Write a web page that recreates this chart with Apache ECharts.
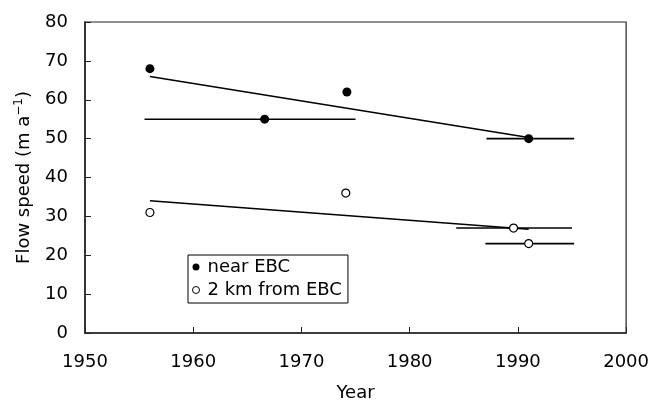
<!DOCTYPE html>
<html>
<head>
<meta charset="utf-8">
<script src="https://cdn.jsdelivr.net/npm/echarts@6/dist/echarts.min.js"></script>
<style>html,body{margin:0;padding:0;background:#fff;}#c{width:652px;height:407px;}</style>
</head>
<body>
<div id="c"></div>
<script>
// Data
var nearEBC = [[1956, 68], [1966.6, 55], [1974.2, 62], [1991, 50]];
var farEBC = [[1956, 31], [1974.1, 36], [1989.6, 27], [1991, 23]];
var nearTrend = [[1956, 66], [1991, 50.3]];
var farTrend = [[1956, 34], [1991, 26.7]];
var nearRange1 = [[1955.5, 55], [1975, 55]];
var nearRange2 = [[1987.1, 50], [1995.2, 50]];
var farRange1 = [[1984.3, 27], [1995, 27]];
var farRange2 = [[1987, 23], [1995.2, 23]];
var xTicks = {min: 1950, max: 2000, step: 10};
var yTicks = {min: 0, max: 80, step: 10};

var FONT = 'DejaVu Sans';
var chart = echarts.init(document.getElementById('c'), null, {renderer: 'canvas'});
function lineSeries(name, data) {
  return {name: name, type: 'line', data: data, symbol: 'none', silent: true,
    lineStyle: {color: '#000', width: 1.6}, z: 2, animation: false};
}
chart.setOption({
  animation: false,
  backgroundColor: '#fff',
  grid: {left: 85, right: 24, top: 22, bottom: 69, show: true, borderColor: '#222', borderWidth: 1.2},
  xAxis: {
    type: 'value', min: xTicks.min, max: xTicks.max, interval: xTicks.step,
    name: 'Year', nameLocation: 'middle', nameGap: 51,
    nameTextStyle: {fontFamily: FONT, fontSize: 18, color: '#000'},
    axisLine: {show: true, lineStyle: {color: '#222', width: 1.5}},
    axisTick: {show: true, inside: true, length: 6, lineStyle: {color: '#222'}},
    axisLabel: {fontFamily: FONT, fontSize: 18, color: '#000', margin: 20,
      formatter: function (v) { return String(v); }},
    splitLine: {show: false}
  },
  yAxis: {
    type: 'value', min: yTicks.min, max: yTicks.max, interval: yTicks.step,
    name: '{a|Flow speed (m a}{s|−1}{a|)}', nameLocation: 'middle', nameGap: 50,
    nameTextStyle: {rich: {
      a: {fontFamily: FONT, fontSize: 18, color: '#000'},
      s: {fontFamily: FONT, fontSize: 12, color: '#000', verticalAlign: 'top', padding: [0, 0, 10, 0]}
    }},
    axisLine: {show: true, lineStyle: {color: '#222', width: 1.5}},
    axisTick: {show: true, inside: true, length: 6, lineStyle: {color: '#222'}},
    axisLabel: {fontFamily: FONT, fontSize: 18, color: '#000', margin: 17},
    splitLine: {show: false}
  },
  legend: {
    orient: 'vertical', left: 188, top: 255,
    backgroundColor: '#fff', borderColor: '#000', borderWidth: 1,
    padding: [3, 6, 4, 4], itemGap: 5, itemWidth: 7, itemHeight: 7,
    textStyle: {fontFamily: FONT, fontSize: 18, color: '#000', padding: [0, 0, 0, 3]},
    data: [
      {name: 'near EBC', icon: 'circle', itemStyle: {color: '#000', borderWidth: 0, opacity: 1}},
      {name: '2 km from EBC', icon: 'circle', itemStyle: {color: '#fff', borderColor: '#000', borderWidth: 1, opacity: 1}}
    ]
  },
  series: [
    lineSeries('nt', nearTrend),
    lineSeries('ft', farTrend),
    lineSeries('nr1', nearRange1),
    lineSeries('nr2', nearRange2),
    lineSeries('fr1', farRange1),
    lineSeries('fr2', farRange2),
    {name: 'near EBC', type: 'scatter', data: nearEBC, symbol: 'circle', symbolSize: 9,
      itemStyle: {color: '#000', opacity: 1}, z: 5},
    {name: '2 km from EBC', type: 'scatter', data: farEBC, symbol: 'circle', symbolSize: 8,
      itemStyle: {color: '#fff', borderColor: '#000', borderWidth: 1.2, opacity: 1}, z: 5}
  ]
});
</script>
</body>
</html>
